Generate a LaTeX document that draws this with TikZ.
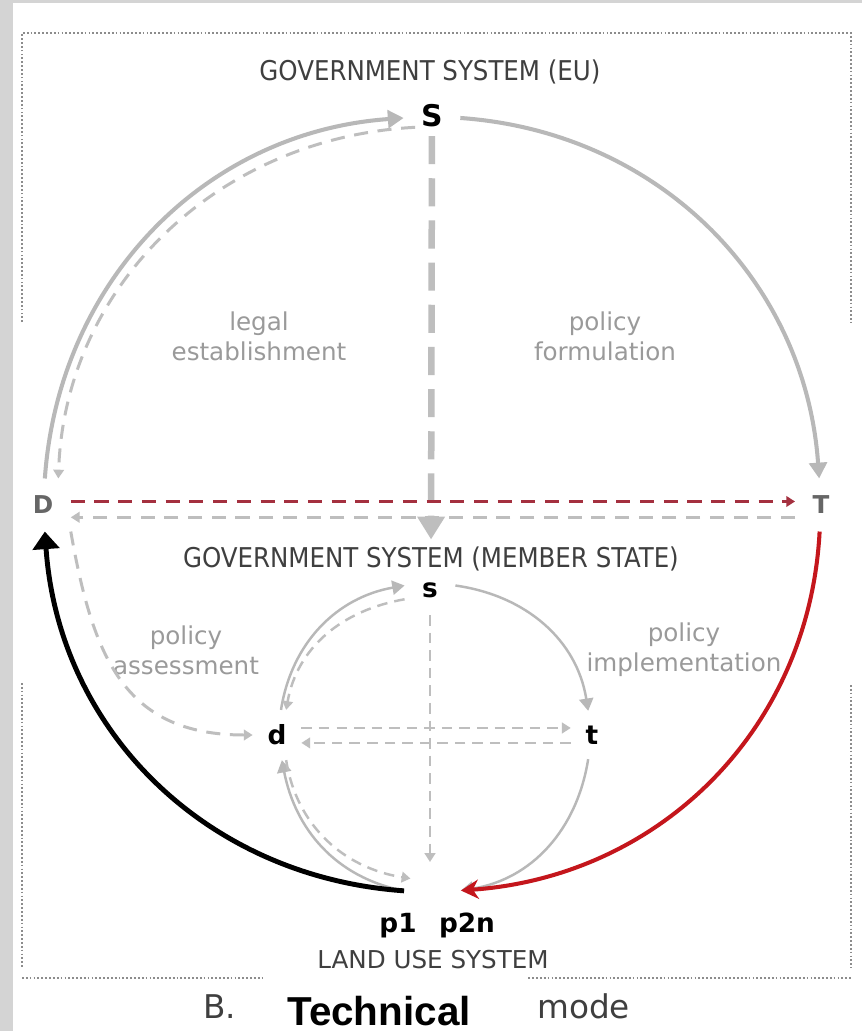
\documentclass[tikz,border=0pt]{standalone}
\usepackage{fontspec}
\setmainfont{DejaVu Sans}
\newfontfamily\condfont{DejaVu Sans Condensed}
\newfontfamily\arialfont{Liberation Sans}
\usetikzlibrary{arrows.meta,positioning,calc}
\definecolor{panelgray}{HTML}{D4D4D4}
\definecolor{framegray}{HTML}{8C8C8C}
\definecolor{arcgray}{HTML}{B8B8B8}
\definecolor{dashgray}{HTML}{BEBEBE}
\definecolor{labelgray}{HTML}{9A9A9A}
\definecolor{titlegray}{HTML}{3F3F3F}
\definecolor{lettergray}{HTML}{666666}
\definecolor{techred}{HTML}{C4161C}
\definecolor{dashred}{HTML}{A4303F}

\tikzset{
  cornerline/.style={framegray,line width=1pt,dash pattern=on 1pt off 1.2pt},
  systemtitle/.style={font=\condfont\fontsize{15.5}{18}\selectfont,text=titlegray,inner sep=0pt},
  landtitle/.style={font=\fontsize{14}{17}\selectfont,text=titlegray,inner sep=0pt},
  flowlabel/.style={font=\fontsize{14}{17}\selectfont,text=labelgray,align=center,inner sep=0pt},
  captiontext/.style={font=\fontsize{18.6}{22}\selectfont,text=titlegray,inner sep=0pt},
  bigletter/.style={font=\bfseries\fontsize{17}{19}\selectfont,inner sep=0pt,outer sep=10pt},
  sideletter/.style={font=\bfseries\fontsize{14}{16}\selectfont,text=lettergray,inner sep=0pt,outer sep=10pt},
  smallletter/.style={font=\bfseries\fontsize{15}{17}\selectfont,inner sep=0pt,outer sep=8.5pt},
  plabel/.style={font=\bfseries\fontsize{15}{17}\selectfont,inner sep=0pt,outer sep=12.5pt,anchor=base},
  bigarc/.style={arcgray,line width=2.3pt,-{Triangle[length=9pt,width=10pt]}},
  bigdash/.style={dashgray,line width=1.7pt,dash pattern=on 8pt off 5.5pt,-{Triangle[length=5pt,width=6pt]}},
  vertdash/.style={dashgray,line width=3.7pt,dash pattern=on 16pt off 8pt,-{Triangle[length=13pt,width=15pt]}},
  reddash/.style={dashred,line width=1.7pt,dash pattern=on 8pt off 5.5pt,-{Triangle[length=5pt,width=6pt]}},
  smallarc/.style={arcgray,line width=1.4pt,-{Triangle[length=7pt,width=8pt]}},
  smalldash/.style={dashgray,line width=1.4pt,dash pattern=on 6pt off 4pt,-{Triangle[length=5pt,width=6pt]}},
  blackarc/.style={black,line width=2.8pt,-{Triangle[length=10pt,width=15pt]}},
  redarc/.style={techred,line width=2.3pt,-{Stealth[length=10pt,width=11pt]}},
}

\begin{document}
\begin{tikzpicture}[x=0.02cm,y=0.02cm]
  % panel
  \fill[panelgray] (0,0) rectangle (862,-1031);
  \fill[white] (13,-3) rectangle (862,-1031);
  \useasboundingbox (0,0) rectangle (862,-1031);

  % dotted corners
  \draw[cornerline] (22,-322) -- (22,-33) -- (851,-33) -- (851,-322);
  \draw[cornerline] (22,-683) -- (22,-967);
  \draw[cornerline] (851,-685) -- (851,-968);
  \draw[cornerline] (22,-978) -- (851,-978);

  % EU level
  \node[systemtitle] (govEU) at (430,-72) {GOVERNMENT SYSTEM (EU)};
  \node[bigletter] (S) at (432,-116) {S};
  \node[sideletter] (D) at (43,-505) {D};
  \node[sideletter] (T) at (821,-505) {T};
  \node[flowlabel] (legal) at (259,-336) {legal\\establishment};
  \node[flowlabel] (formul) at (605,-336) {policy\\formulation};

  % member state level
  \node[systemtitle] (govMS) at (431,-559) {GOVERNMENT SYSTEM (MEMBER STATE)};
  \node[smallletter,outer sep=10pt] (s) at (430,-590) {s};
  \node[smallletter] (d) at (277,-735) {d};
  \node[smallletter] (t) at (592,-735) {t};
  \node[flowlabel] (assess) at (186,-650) {policy\\assessment};
  \node[flowlabel] (implem) at (684,-650) {policy\\implementation};

  % land use
  \node[plabel] (p1) at (398,-932) {p1};
  \node[plabel] (p2n) at (467,-932) {p2n};
  \node[landtitle] (landuse) at (433,-960) {LAND USE SYSTEM};
  \coordinate (pmid) at (430,-862);

  % caption
  \node[captiontext,anchor=base west] (capB) at (203,-1018) {B.};
  \fill[white] (265,-973) rectangle (527,-1031);
  \node[font=\arialfont\bfseries\fontsize{23}{26}\selectfont,inner sep=0pt,anchor=base west] (tech) at (287,-1025) {Technical};
  \node[captiontext,anchor=base west] (capmode) at (537,-1018) {mode};

  % upper cycle
  \draw[bigarc] (D) to[out=86,in=184] (S);
  \draw[bigdash] ([shift={(6.5pt,10pt)}]S.south west) to[out=183,in=88] (D.60);
  \draw[bigarc] (S) to[out=-4,in=94] (T);
  \draw[vertdash,shorten <=-5pt,shorten >=4pt] (S) -- (govMS);
  \draw[reddash] ([yshift=2pt]D.east) -- ([yshift=2pt]T.west);
  \draw[bigdash] ([yshift=-7pt]T.west) -- ([yshift=-7pt]D.east);

  % lower cycle
  \draw[smallarc] (d) to[out=81,in=190] (s.170);
  \draw[smalldash] (s.200) to[out=190,in=80] (d.70);
  \draw[smallarc] (s.10) to[out=-8,in=99] (t);
  \draw[smalldash] ([yshift=4pt]d.east) -- ([yshift=4pt]t.west);
  \draw[smalldash] ([yshift=-4.5pt]t.west) -- ([yshift=-4.5pt]d.east);
  \draw[smalldash] (s) -- (pmid);
  \draw[smallarc] (p1.80) to[out=169,in=-79] (d);
  \draw[smalldash] (d.-70) to[out=-81,in=171] ([yshift=7pt]p1.70);
  \draw[smallarc] (t) to[out=-99,in=9] (p2n.100);

  % links between levels
  \draw[bigdash] (D.south east) to[out=-80,in=180,looseness=1.2] (d);
  \draw[blackarc] (p1.80) to[out=176,in=-86] (D);
  \draw[redarc] (T) to[out=-93,in=4] (p2n.100);
\end{tikzpicture}
\end{document}
